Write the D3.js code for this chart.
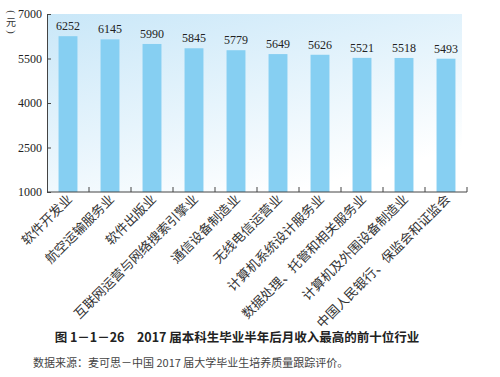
<!DOCTYPE html>
<html><head><meta charset="utf-8">
<script src="https://cdn.jsdelivr.net/npm/d3@7"></script>
<style>body{margin:0;background:#fff}svg{display:block}</style>
</head><body>
<svg id="c" width="500" height="377"></svg>
<script>
const categories = ["软件开发业","航空运输服务业","软件出版业","互联网运营与网络搜索引擎业","通信设备制造业","无线电信运营业","计算机系统设计服务业","数据处理、托管和相关服务业","计算机及外围设备制造业","中国人民银行、保监会和证监会"];
const values = [6252,6145,5990,5845,5779,5649,5626,5521,5518,5493];
const yTicks = [1000,2500,4000,5500,7000];
const unitLabel = "元";
const title = "图 1－1－26　2017 届本科生毕业半年后月收入最高的前十位行业";
const source = "数据来源：麦可思－中国 2017 届大学毕业生培养质量跟踪评价。";

const svg = d3.select("#c");
const m = {l:47, r:467, t:14, b:192};
const x = d3.scaleBand().domain(categories).range([m.l, m.r]).paddingInner(0.55).paddingOuter(0.275);
const y = d3.scaleLinear().domain([1000,7000]).range([m.b, m.t]);

const defs = svg.append("defs");
const g1 = defs.append("linearGradient").attr("id","bg").attr("x1","0").attr("y1","0").attr("x2","0.6").attr("y2","1");
g1.append("stop").attr("offset","0").attr("stop-color","#c9e7f8");
g1.append("stop").attr("offset","0.55").attr("stop-color","#e6f4fc");
g1.append("stop").attr("offset","1").attr("stop-color","#ffffff");
svg.append("rect").attr("x",m.l).attr("y",m.t).attr("width",462-m.l).attr("height",m.b-m.t).attr("fill","url(#bg)");

svg.selectAll("rect.bar").data(values).join("rect").attr("class","bar")
  .attr("x",(d,i)=>x(categories[i])).attr("width",x.bandwidth())
  .attr("y",d=>y(d)).attr("height",d=>y(1000)-y(d)).attr("fill","#86cff2");

svg.selectAll("text.val").data(values).join("text").attr("class","val")
  .attr("x",(d,i)=>x(categories[i])+x.bandwidth()/2).attr("y",d=>y(d)-6)
  .attr("text-anchor","middle").attr("font-family","Liberation Serif").attr("font-size",12).attr("fill","#222")
  .text(d=>d);

// y axis
const ya = svg.append("g").attr("transform",`translate(${m.l},0)`)
  .call(d3.axisLeft(y).tickValues(yTicks).tickFormat(d3.format("d")).tickSize(-4).tickPadding(5).tickSizeOuter(0));
ya.select(".domain").attr("stroke","#444");
ya.selectAll(".tick line").attr("stroke","#444");
ya.selectAll("text").attr("font-family","Liberation Serif").attr("font-size",12).attr("fill","#222");

// x axis
const xa = svg.append("g").attr("transform",`translate(0,${m.b})`);
xa.append("line").attr("x1",m.l).attr("x2",m.r).attr("stroke","#444");
const bounds = categories.map(c=>x(c)-x.step()*x.paddingInner()/2 + x.step());
xa.selectAll("line.tk").data(bounds).join("line").attr("class","tk")
  .attr("x1",d=>d).attr("x2",d=>d).attr("y1",0).attr("y2",-5).attr("stroke","#444");
xa.selectAll("text").data(categories).join("text")
  .attr("transform",c=>`translate(${x(c)+x.bandwidth()/2+5},8) rotate(-45)`)
  .attr("text-anchor","end").attr("font-family","Noto Sans CJK SC").attr("font-size",13).attr("fill","#333")
  .text(c=>c);

// unit label (vertical, with rotated parentheses)
const ug = svg.append("g").attr("font-family","Liberation Serif").attr("fill","#333");
ug.append("text").attr("transform","translate(11,12) rotate(90)").attr("text-anchor","middle")
  .attr("dominant-baseline","central").attr("font-size",10).text("(");
ug.append("text").attr("x",11).attr("y",26).attr("text-anchor","middle")
  .attr("font-family","Noto Sans CJK SC").attr("font-size",10).text(unitLabel);
ug.append("text").attr("transform","translate(11,32) rotate(90)").attr("text-anchor","middle")
  .attr("dominant-baseline","central").attr("font-size",10).text(")");

svg.append("text").attr("x",237).attr("y",342).attr("text-anchor","middle").attr("font-family","Noto Sans CJK SC")
  .attr("font-weight","bold").attr("font-size",12.5).attr("fill","#222").text(title);
svg.append("text").attr("x",33).attr("y",367).attr("font-family","Noto Sans CJK SC")
  .attr("font-size",11).attr("fill","#444").text(source);
</script>
</body></html>
